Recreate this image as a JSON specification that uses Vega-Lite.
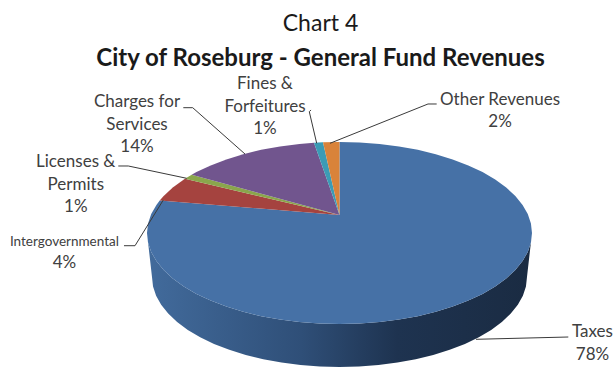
{"$schema":"https://vega.github.io/schema/vega-lite/v6.json","width":615,"height":367,"padding":0,"autosize":"none","background":"white","config":{"view":{"stroke":null},"font":"Lato"},
"datasets":{
"wall":[{"i":0,"u":100,"v":0},{"i":1,"u":99.45,"v":-10.45},{"i":2,"u":97.81,"v":-20.79},{"i":3,"u":95.11,"v":-30.9},{"i":4,"u":91.35,"v":-40.67},{"i":5,"u":86.6,"v":-50},{"i":6,"u":80.9,"v":-58.78},{"i":7,"u":74.31,"v":-66.91},{"i":8,"u":66.91,"v":-74.31},{"i":9,"u":58.78,"v":-80.9},{"i":10,"u":50,"v":-86.6},{"i":11,"u":40.67,"v":-91.35},{"i":12,"u":30.9,"v":-95.11},{"i":13,"u":20.79,"v":-97.81},{"i":14,"u":10.45,"v":-99.45},{"i":15,"u":0,"v":-100},{"i":16,"u":-10.45,"v":-99.45},{"i":17,"u":-20.79,"v":-97.81},{"i":18,"u":-30.9,"v":-95.11},{"i":19,"u":-40.67,"v":-91.35},{"i":20,"u":-50,"v":-86.6},{"i":21,"u":-58.78,"v":-80.9},{"i":22,"u":-66.91,"v":-74.31},{"i":23,"u":-74.31,"v":-66.91},{"i":24,"u":-80.9,"v":-58.78},{"i":25,"u":-86.6,"v":-50},{"i":26,"u":-91.35,"v":-40.67},{"i":27,"u":-95.11,"v":-30.9},{"i":28,"u":-97.81,"v":-20.79},{"i":29,"u":-99.45,"v":-10.45},{"i":30,"u":-100,"v":0},{"i":31,"u":-97.4,"v":-48.35},{"i":32,"u":-96.86,"v":-58.69},{"i":33,"u":-95.27,"v":-68.91},{"i":34,"u":-92.64,"v":-78.91},{"i":35,"u":-88.98,"v":-88.57},{"i":36,"u":-84.35,"v":-97.8},{"i":37,"u":-78.8,"v":-106.48},{"i":38,"u":-72.38,"v":-114.52},{"i":39,"u":-65.17,"v":-121.84},{"i":40,"u":-57.25,"v":-128.36},{"i":41,"u":-48.7,"v":-134},{"i":42,"u":-39.61,"v":-138.7},{"i":43,"u":-30.1,"v":-142.41},{"i":44,"u":-20.25,"v":-145.08},{"i":45,"u":-10.18,"v":-146.71},{"i":46,"u":0,"v":-147.25},{"i":47,"u":10.18,"v":-146.71},{"i":48,"u":20.25,"v":-145.08},{"i":49,"u":30.1,"v":-142.41},{"i":50,"u":39.61,"v":-138.7},{"i":51,"u":48.7,"v":-134},{"i":52,"u":57.25,"v":-128.36},{"i":53,"u":65.17,"v":-121.84},{"i":54,"u":72.38,"v":-114.52},{"i":55,"u":78.8,"v":-106.48},{"i":56,"u":84.35,"v":-97.8},{"i":57,"u":88.98,"v":-88.57},{"i":58,"u":92.64,"v":-78.91},{"i":59,"u":95.27,"v":-68.91},{"i":60,"u":96.86,"v":-58.69},{"i":61,"u":97.4,"v":-48.35}],
"slices":[
{"category":"Taxes","i":0,"u":0,"v":19.8},{"category":"Taxes","i":1,"u":0,"v":100},{"category":"Taxes","i":2,"u":10.45,"v":99.45},{"category":"Taxes","i":3,"u":20.79,"v":97.81},{"category":"Taxes","i":4,"u":30.9,"v":95.11},{"category":"Taxes","i":5,"u":40.67,"v":91.35},{"category":"Taxes","i":6,"u":50,"v":86.6},{"category":"Taxes","i":7,"u":58.78,"v":80.9},{"category":"Taxes","i":8,"u":66.91,"v":74.31},{"category":"Taxes","i":9,"u":74.31,"v":66.91},{"category":"Taxes","i":10,"u":80.9,"v":58.78},{"category":"Taxes","i":11,"u":86.6,"v":50},{"category":"Taxes","i":12,"u":91.35,"v":40.67},{"category":"Taxes","i":13,"u":95.11,"v":30.9},{"category":"Taxes","i":14,"u":97.81,"v":20.79},{"category":"Taxes","i":15,"u":99.45,"v":10.45},{"category":"Taxes","i":16,"u":100,"v":0},{"category":"Taxes","i":17,"u":99.45,"v":-10.45},{"category":"Taxes","i":18,"u":97.81,"v":-20.79},{"category":"Taxes","i":19,"u":95.11,"v":-30.9},{"category":"Taxes","i":20,"u":91.35,"v":-40.67},{"category":"Taxes","i":21,"u":86.6,"v":-50},{"category":"Taxes","i":22,"u":80.9,"v":-58.78},{"category":"Taxes","i":23,"u":74.31,"v":-66.91},{"category":"Taxes","i":24,"u":66.91,"v":-74.31},{"category":"Taxes","i":25,"u":58.78,"v":-80.9},{"category":"Taxes","i":26,"u":50,"v":-86.6},{"category":"Taxes","i":27,"u":40.67,"v":-91.35},{"category":"Taxes","i":28,"u":30.9,"v":-95.11},{"category":"Taxes","i":29,"u":20.79,"v":-97.81},{"category":"Taxes","i":30,"u":10.45,"v":-99.45},{"category":"Taxes","i":31,"u":0,"v":-100},{"category":"Taxes","i":32,"u":-10.45,"v":-99.45},{"category":"Taxes","i":33,"u":-20.79,"v":-97.81},{"category":"Taxes","i":34,"u":-30.9,"v":-95.11},{"category":"Taxes","i":35,"u":-40.67,"v":-91.35},{"category":"Taxes","i":36,"u":-50,"v":-86.6},{"category":"Taxes","i":37,"u":-58.78,"v":-80.9},{"category":"Taxes","i":38,"u":-66.91,"v":-74.31},{"category":"Taxes","i":39,"u":-74.31,"v":-66.91},{"category":"Taxes","i":40,"u":-80.9,"v":-58.78},{"category":"Taxes","i":41,"u":-86.6,"v":-50},{"category":"Taxes","i":42,"u":-91.35,"v":-40.67},{"category":"Taxes","i":43,"u":-95.11,"v":-30.9},{"category":"Taxes","i":44,"u":-97.81,"v":-20.79},{"category":"Taxes","i":45,"u":-99.45,"v":-10.45},{"category":"Taxes","i":46,"u":-100,"v":0},{"category":"Taxes","i":47,"u":-99.45,"v":10.45},{"category":"Taxes","i":48,"u":-97.81,"v":20.79},{"category":"Taxes","i":49,"u":-95.11,"v":30.9},{"category":"Taxes","i":50,"u":-93.4,"v":35.7},
{"category":"Intergovernmental","i":0,"u":0,"v":19.8},{"category":"Intergovernmental","i":1,"u":-80.3,"v":59.6},{"category":"Intergovernmental","i":2,"u":-86.6,"v":50},{"category":"Intergovernmental","i":3,"u":-91.35,"v":40.67},{"category":"Intergovernmental","i":4,"u":-93.4,"v":35.7},
{"category":"Licenses & Permits","i":0,"u":0,"v":19.8},{"category":"Licenses & Permits","i":1,"u":-76.8,"v":64.05},{"category":"Licenses & Permits","i":2,"u":-80.3,"v":59.6},
{"category":"Charges for Services","i":0,"u":0,"v":19.8},{"category":"Charges for Services","i":1,"u":-13.25,"v":99.12},{"category":"Charges for Services","i":2,"u":-20.79,"v":97.81},{"category":"Charges for Services","i":3,"u":-30.9,"v":95.11},{"category":"Charges for Services","i":4,"u":-40.67,"v":91.35},{"category":"Charges for Services","i":5,"u":-50,"v":86.6},{"category":"Charges for Services","i":6,"u":-58.78,"v":80.9},{"category":"Charges for Services","i":7,"u":-66.91,"v":74.31},{"category":"Charges for Services","i":8,"u":-74.31,"v":66.91},{"category":"Charges for Services","i":9,"u":-76.8,"v":64.05},
{"category":"Fines & Forfeitures","i":0,"u":0,"v":19.8},{"category":"Fines & Forfeitures","i":1,"u":-8.57,"v":99.63},{"category":"Fines & Forfeitures","i":2,"u":-13.25,"v":99.12},
{"category":"Other Revenues","i":0,"u":0,"v":19.8},{"category":"Other Revenues","i":1,"u":0,"v":100},{"category":"Other Revenues","i":2,"u":-8.57,"v":99.63}],
"leaders":[
{"category":"Other Revenues","i":0,"u":-4.94,"v":98.57},{"category":"Other Revenues","i":1,"u":45.97,"v":141.76},{"category":"Other Revenues","i":2,"u":50.49,"v":141.76},
{"category":"Fines & Forfeitures","i":0,"u":-11.84,"v":98.57},{"category":"Fines & Forfeitures","i":1,"u":-15.69,"v":133.3},{"category":"Fines & Forfeitures","i":2,"u":-14.8,"v":135.2},
{"category":"Charges for Services","i":0,"u":-49.09,"v":86.81},{"category":"Charges for Services","i":1,"u":-76.26,"v":137.69},{"category":"Charges for Services","i":2,"u":-81.14,"v":137.69},
{"category":"Licenses & Permits","i":0,"u":-79.38,"v":60.11},{"category":"Licenses & Permits","i":1,"u":-109.71,"v":73.63},{"category":"Licenses & Permits","i":2,"u":-114.91,"v":73.63},
{"category":"Intergovernmental","i":0,"u":-91.53,"v":36.26},{"category":"Intergovernmental","i":1,"u":-106.23,"v":-13.96},{"category":"Intergovernmental","i":2,"u":-111.95,"v":-13.96},
{"category":"Taxes","i":0,"u":70.91,"v":-116.81},{"category":"Taxes","i":1,"u":118.86,"v":-114.29}],
"labels":[
{"category":"Fines & Forfeitures","share":1,"lines":["Fines &","Forfeitures","1%"],"u":-38.7,"v":163.7},
{"category":"Charges for Services","share":14,"lines":["Charges for","Services","14%"],"u":-105.2,"v":143.9},
{"category":"Licenses & Permits","share":1,"lines":["Licenses &","Permits","1%"],"u":-137.0,"v":77.5},
{"category":"Intergovernmental","share":4,"lines":["4%"],"u":-142.9,"v":-32.5},
{"category":"Other Revenues","share":2,"lines":["Other Revenues","2%"],"u":83.4,"v":146.2},
{"category":"Taxes","share":78,"lines":["Taxes","78%"],"u":131.4,"v":-108.8}]
},
"encoding":{
"x":{"field":"u","type":"quantitative","axis":null,"scale":{"domain":[-176.36,143.12],"nice":false,"zero":false}},
"y":{"field":"v","type":"quantitative","axis":null,"scale":{"domain":[-147.25,256.04],"nice":false,"zero":false}}},
"layer":[
{"data":{"name":"wall"},"mark":{"type":"line","filled":true,"interpolate":"linear-closed","fill":{"gradient":"linear","x1":0,"x2":1,"y1":0,"y2":0,"stops":[{"offset":0,"color":"#426b9c"},{"offset":0.4,"color":"#2f4f78"},{"offset":0.65,"color":"#1e3350"},{"offset":1,"color":"#1a2b42"}]}},"encoding":{"order":{"field":"i","type":"quantitative"}}},
{"data":{"name":"slices"},"mark":{"type":"line","filled":true,"interpolate":"linear-closed"},"encoding":{"order":{"field":"i","type":"quantitative"},"color":{"field":"category","type":"nominal","legend":null,"scale":{"domain":["Taxes","Intergovernmental","Licenses & Permits","Charges for Services","Fines & Forfeitures","Other Revenues"],"range":["#4671a6","#a5433f","#8aa64c","#71558e","#3b9bb5","#d9833a"]}}}},
{"data":{"name":"leaders"},"mark":{"type":"line","color":"#3a3a3a","strokeWidth":1},"encoding":{"order":{"field":"i","type":"quantitative"},"detail":{"field":"category"}}},
{"data":{"name":"labels"},"mark":{"type":"text","font":"Lato","fontSize":17,"lineHeight":22.5,"color":"#404040","align":"center","baseline":"middle"},"encoding":{"text":{"field":"lines"}}},
{"data":{"values":[{"u":-142.9,"v":-9.5,"name":"Intergovernmental"}]},"mark":{"type":"text","font":"Lato","fontSize":13.5,"color":"#404040","align":"center","baseline":"middle"},"encoding":{"text":{"field":"name"}}},
{"data":{"values":[{"u":-9.87,"v":229.7,"name":"Chart 4"}]},"mark":{"type":"text","font":"Lato","fontSize":23,"color":"#1a1a1a","align":"center","baseline":"middle"},"encoding":{"text":{"field":"name"}}},
{"data":{"values":[{"u":-9.87,"v":191.2,"name":"City of Roseburg - General Fund Revenues"}]},"mark":{"type":"text","font":"Lato","fontSize":24,"fontWeight":"bold","color":"#1a1a1a","align":"center","baseline":"middle"},"encoding":{"text":{"field":"name"}}}
]}
